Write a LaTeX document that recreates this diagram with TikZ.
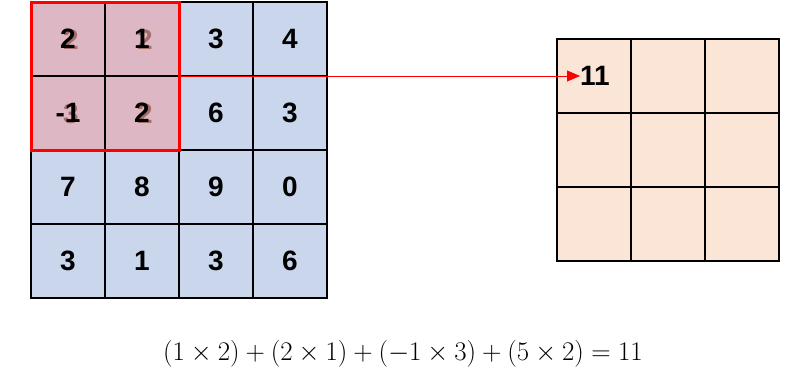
\documentclass[tikz,border=0pt]{standalone}
\usepackage{amsmath}
\usepackage{fontspec}
\setsansfont{Liberation Sans}
\usepackage{tikz}
\usetikzlibrary{arrows.meta, positioning}
\definecolor{gridblue}{RGB}{201,214,236}
\definecolor{windowpink}{RGB}{221,184,196}
\definecolor{outpeach}{RGB}{251,229,214}
\definecolor{kernelbrown}{RGB}{140,80,70}
\tikzset{
  digits/.style={font=\sffamily\bfseries\fontsize{28}{28}\selectfont},
  cell/.style={draw=black, line width=1.4pt, minimum size=74pt, inner sep=0pt, digits},
}

\begin{document}
\begin{tikzpicture}[x=1pt, y=-1pt]
        \useasboundingbox (0,0) rectangle (808,378);
        % input grid
        \foreach \r/\c/\v in {0/0/2, 0/1/1, 0/2/3, 0/3/4,
                              1/0/-1, 1/1/2, 1/2/6, 1/3/3,
                              2/0/7, 2/1/8, 2/2/9, 2/3/0,
                              3/0/3, 3/1/1, 3/2/3, 3/3/6} {
          \node[cell, fill=gridblue] (in-\r-\c) at (68+74*\c, 39+74*\r) {\v};
        }
        % window over the top left corner
        \foreach \r/\c in {0/0, 0/1, 1/0, 1/1} {
          \node[cell, fill=windowpink] (win-\r-\c) at (68+74*\c, 39+74*\r) {};
        }
        \foreach \r/\c/\k in {0/0/2, 0/1/2, 1/0/3, 1/1/2} {
          \node[digits, text=kernelbrown, opacity=0.7] (ker-\r-\c)
                at (71+74*\c, 40+74*\r) {\k};
        }
        \foreach \r/\c/\v in {0/0/2, 0/1/1, 1/0/-1, 1/1/2} {
          \node[digits] (val-\r-\c) at (68+74*\c, 39+74*\r) {\v};
        }
        \node[draw=red, line width=3pt, minimum size=148pt, inner sep=0pt]
              (window) at (105,76) {};
        % output grid
        \foreach \r in {0,1,2} {
          \foreach \c in {0,1,2} {
            \node[cell, fill=outpeach] (out-\r-\c) at (594+74*\c, 76+74*\r) {};
          }
        }
        \node[digits, inner sep=0pt] (res) at (595,76) {11};
        \draw[red, line width=0.8pt, -{Triangle[length=13pt, width=11pt]}]
              (window.east |- res.west) -- (res.west);
        % sum
        \node[font=\fontsize{27}{27}\selectfont] (sum) at (403,354)
              {\scalebox{1.08}{$(1\times 2)+(2\times 1)+(-1\times 3)+(5\times 2)=11$}};
      \end{tikzpicture}
\end{document}
